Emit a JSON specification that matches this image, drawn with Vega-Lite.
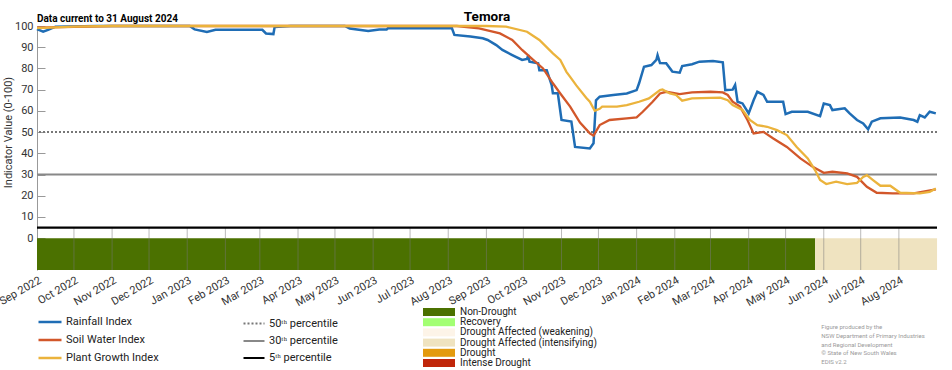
{
  "$schema": "https://vega.github.io/schema/vega-lite/v6.json",
  "width": 900,
  "height": 244,
  "autosize": {"type": "none"},
  "padding": {"left": 37, "top": 26, "right": 15, "bottom": 100},
  "background": "white",
  "title": {"text": "Temora", "fontSize": 13.5, "fontWeight": "bold", "anchor": "middle", "offset": 6, "dy": 16, "frame": "group", "color": "#000"},
  "datasets": {
    "idx": [
      {"series": "Rainfall Index", "date": "2022-09-01", "value": 98.5},
      {"series": "Rainfall Index", "date": "2022-09-06", "value": 97.3},
      {"series": "Rainfall Index", "date": "2022-09-10", "value": 98.2},
      {"series": "Rainfall Index", "date": "2022-09-16", "value": 99.7},
      {"series": "Rainfall Index", "date": "2022-10-20", "value": 100},
      {"series": "Rainfall Index", "date": "2023-01-03", "value": 100},
      {"series": "Rainfall Index", "date": "2023-01-07", "value": 98.4},
      {"series": "Rainfall Index", "date": "2023-01-17", "value": 97.2},
      {"series": "Rainfall Index", "date": "2023-01-24", "value": 98.2},
      {"series": "Rainfall Index", "date": "2023-03-03", "value": 98.2},
      {"series": "Rainfall Index", "date": "2023-03-06", "value": 96.5},
      {"series": "Rainfall Index", "date": "2023-03-12", "value": 96.2},
      {"series": "Rainfall Index", "date": "2023-03-13", "value": 99.5},
      {"series": "Rainfall Index", "date": "2023-03-26", "value": 100},
      {"series": "Rainfall Index", "date": "2023-05-09", "value": 100},
      {"series": "Rainfall Index", "date": "2023-05-13", "value": 98.8},
      {"series": "Rainfall Index", "date": "2023-05-28", "value": 97.6},
      {"series": "Rainfall Index", "date": "2023-06-06", "value": 98.4},
      {"series": "Rainfall Index", "date": "2023-06-12", "value": 98.4},
      {"series": "Rainfall Index", "date": "2023-06-13", "value": 98.9},
      {"series": "Rainfall Index", "date": "2023-08-04", "value": 98.9},
      {"series": "Rainfall Index", "date": "2023-08-06", "value": 95.8},
      {"series": "Rainfall Index", "date": "2023-08-19", "value": 95},
      {"series": "Rainfall Index", "date": "2023-08-29", "value": 94.2},
      {"series": "Rainfall Index", "date": "2023-09-02", "value": 93.4},
      {"series": "Rainfall Index", "date": "2023-09-09", "value": 91},
      {"series": "Rainfall Index", "date": "2023-09-14", "value": 88.7},
      {"series": "Rainfall Index", "date": "2023-09-22", "value": 86.3},
      {"series": "Rainfall Index", "date": "2023-09-30", "value": 84},
      {"series": "Rainfall Index", "date": "2023-10-04", "value": 84.5},
      {"series": "Rainfall Index", "date": "2023-10-05", "value": 86.3},
      {"series": "Rainfall Index", "date": "2023-10-06", "value": 83.2},
      {"series": "Rainfall Index", "date": "2023-10-13", "value": 82.4},
      {"series": "Rainfall Index", "date": "2023-10-14", "value": 79.2},
      {"series": "Rainfall Index", "date": "2023-10-20", "value": 79.2},
      {"series": "Rainfall Index", "date": "2023-10-24", "value": 72.2},
      {"series": "Rainfall Index", "date": "2023-10-25", "value": 68.3},
      {"series": "Rainfall Index", "date": "2023-10-29", "value": 68.3},
      {"series": "Rainfall Index", "date": "2023-11-01", "value": 55.7},
      {"series": "Rainfall Index", "date": "2023-11-09", "value": 55},
      {"series": "Rainfall Index", "date": "2023-11-10", "value": 51},
      {"series": "Rainfall Index", "date": "2023-11-12", "value": 43},
      {"series": "Rainfall Index", "date": "2023-11-24", "value": 42.3},
      {"series": "Rainfall Index", "date": "2023-11-27", "value": 44.7},
      {"series": "Rainfall Index", "date": "2023-11-29", "value": 65},
      {"series": "Rainfall Index", "date": "2023-12-02", "value": 66.7},
      {"series": "Rainfall Index", "date": "2023-12-13", "value": 67.5},
      {"series": "Rainfall Index", "date": "2023-12-24", "value": 68.2},
      {"series": "Rainfall Index", "date": "2024-01-01", "value": 69.8},
      {"series": "Rainfall Index", "date": "2024-01-03", "value": 73},
      {"series": "Rainfall Index", "date": "2024-01-07", "value": 80.8},
      {"series": "Rainfall Index", "date": "2024-01-13", "value": 81.6},
      {"series": "Rainfall Index", "date": "2024-01-17", "value": 84},
      {"series": "Rainfall Index", "date": "2024-01-18", "value": 86.3},
      {"series": "Rainfall Index", "date": "2024-01-20", "value": 82.5},
      {"series": "Rainfall Index", "date": "2024-01-25", "value": 82.4},
      {"series": "Rainfall Index", "date": "2024-01-30", "value": 78.5},
      {"series": "Rainfall Index", "date": "2024-02-05", "value": 78},
      {"series": "Rainfall Index", "date": "2024-02-07", "value": 81.1},
      {"series": "Rainfall Index", "date": "2024-02-15", "value": 82},
      {"series": "Rainfall Index", "date": "2024-02-21", "value": 83.2},
      {"series": "Rainfall Index", "date": "2024-03-03", "value": 83.5},
      {"series": "Rainfall Index", "date": "2024-03-11", "value": 82.9},
      {"series": "Rainfall Index", "date": "2024-03-13", "value": 69.8},
      {"series": "Rainfall Index", "date": "2024-03-19", "value": 70},
      {"series": "Rainfall Index", "date": "2024-03-21", "value": 72.2},
      {"series": "Rainfall Index", "date": "2024-03-23", "value": 64.3},
      {"series": "Rainfall Index", "date": "2024-03-27", "value": 63.5},
      {"series": "Rainfall Index", "date": "2024-04-01", "value": 58.8},
      {"series": "Rainfall Index", "date": "2024-04-05", "value": 65},
      {"series": "Rainfall Index", "date": "2024-04-08", "value": 69},
      {"series": "Rainfall Index", "date": "2024-04-13", "value": 67.5},
      {"series": "Rainfall Index", "date": "2024-04-16", "value": 64.3},
      {"series": "Rainfall Index", "date": "2024-04-29", "value": 64.3},
      {"series": "Rainfall Index", "date": "2024-05-01", "value": 58.5},
      {"series": "Rainfall Index", "date": "2024-05-06", "value": 59.6},
      {"series": "Rainfall Index", "date": "2024-05-19", "value": 59.6},
      {"series": "Rainfall Index", "date": "2024-05-29", "value": 57.5},
      {"series": "Rainfall Index", "date": "2024-06-01", "value": 63.5},
      {"series": "Rainfall Index", "date": "2024-06-06", "value": 62.7},
      {"series": "Rainfall Index", "date": "2024-06-08", "value": 60.4},
      {"series": "Rainfall Index", "date": "2024-06-18", "value": 61.2},
      {"series": "Rainfall Index", "date": "2024-06-22", "value": 58.8},
      {"series": "Rainfall Index", "date": "2024-06-28", "value": 55.7},
      {"series": "Rainfall Index", "date": "2024-07-03", "value": 54.1},
      {"series": "Rainfall Index", "date": "2024-07-07", "value": 51.3},
      {"series": "Rainfall Index", "date": "2024-07-10", "value": 54.9},
      {"series": "Rainfall Index", "date": "2024-07-17", "value": 56.5},
      {"series": "Rainfall Index", "date": "2024-08-02", "value": 56.9},
      {"series": "Rainfall Index", "date": "2024-08-13", "value": 55.7},
      {"series": "Rainfall Index", "date": "2024-08-16", "value": 54.9},
      {"series": "Rainfall Index", "date": "2024-08-18", "value": 58},
      {"series": "Rainfall Index", "date": "2024-08-22", "value": 56.9},
      {"series": "Rainfall Index", "date": "2024-08-26", "value": 59.6},
      {"series": "Rainfall Index", "date": "2024-08-31", "value": 58.8},

      {"series": "Soil Water Index", "date": "2022-09-01", "value": 99.2},
      {"series": "Soil Water Index", "date": "2022-10-01", "value": 99.6},
      {"series": "Soil Water Index", "date": "2022-11-01", "value": 100},
      {"series": "Soil Water Index", "date": "2023-08-08", "value": 100},
      {"series": "Soil Water Index", "date": "2023-08-26", "value": 98.9},
      {"series": "Soil Water Index", "date": "2023-09-12", "value": 96.5},
      {"series": "Soil Water Index", "date": "2023-09-22", "value": 93.4},
      {"series": "Soil Water Index", "date": "2023-09-30", "value": 88.7},
      {"series": "Soil Water Index", "date": "2023-10-09", "value": 84},
      {"series": "Soil Water Index", "date": "2023-10-17", "value": 80},
      {"series": "Soil Water Index", "date": "2023-10-25", "value": 73},
      {"series": "Soil Water Index", "date": "2023-10-31", "value": 68.2},
      {"series": "Soil Water Index", "date": "2023-11-08", "value": 62},
      {"series": "Soil Water Index", "date": "2023-11-16", "value": 54.5},
      {"series": "Soil Water Index", "date": "2023-11-24", "value": 49.4},
      {"series": "Soil Water Index", "date": "2023-11-27", "value": 48.3},
      {"series": "Soil Water Index", "date": "2023-12-02", "value": 53.3},
      {"series": "Soil Water Index", "date": "2023-12-10", "value": 55.7},
      {"series": "Soil Water Index", "date": "2023-12-24", "value": 56.5},
      {"series": "Soil Water Index", "date": "2024-01-01", "value": 56.9},
      {"series": "Soil Water Index", "date": "2024-01-06", "value": 59.6},
      {"series": "Soil Water Index", "date": "2024-01-14", "value": 64.3},
      {"series": "Soil Water Index", "date": "2024-01-20", "value": 68.2},
      {"series": "Soil Water Index", "date": "2024-01-25", "value": 69},
      {"series": "Soil Water Index", "date": "2024-02-05", "value": 67.9},
      {"series": "Soil Water Index", "date": "2024-02-15", "value": 68.7},
      {"series": "Soil Water Index", "date": "2024-03-01", "value": 69},
      {"series": "Soil Water Index", "date": "2024-03-11", "value": 68.7},
      {"series": "Soil Water Index", "date": "2024-03-15", "value": 67.5},
      {"series": "Soil Water Index", "date": "2024-03-19", "value": 64.3},
      {"series": "Soil Water Index", "date": "2024-03-25", "value": 62},
      {"series": "Soil Water Index", "date": "2024-03-31", "value": 55.7},
      {"series": "Soil Water Index", "date": "2024-04-05", "value": 49.4},
      {"series": "Soil Water Index", "date": "2024-04-13", "value": 50.1},
      {"series": "Soil Water Index", "date": "2024-04-21", "value": 47},
      {"series": "Soil Water Index", "date": "2024-05-02", "value": 43},
      {"series": "Soil Water Index", "date": "2024-05-13", "value": 37.6},
      {"series": "Soil Water Index", "date": "2024-05-23", "value": 33.6},
      {"series": "Soil Water Index", "date": "2024-06-01", "value": 30.8},
      {"series": "Soil Water Index", "date": "2024-06-08", "value": 31.3},
      {"series": "Soil Water Index", "date": "2024-06-20", "value": 30.5},
      {"series": "Soil Water Index", "date": "2024-06-28", "value": 28.9},
      {"series": "Soil Water Index", "date": "2024-07-06", "value": 24.2},
      {"series": "Soil Water Index", "date": "2024-07-14", "value": 21.4},
      {"series": "Soil Water Index", "date": "2024-07-27", "value": 21.1},
      {"series": "Soil Water Index", "date": "2024-08-13", "value": 21.1},
      {"series": "Soil Water Index", "date": "2024-08-31", "value": 23},

      {"series": "Plant Growth Index", "date": "2022-09-01", "value": 99},
      {"series": "Plant Growth Index", "date": "2022-10-01", "value": 99.7},
      {"series": "Plant Growth Index", "date": "2022-11-01", "value": 100},
      {"series": "Plant Growth Index", "date": "2023-09-01", "value": 100},
      {"series": "Plant Growth Index", "date": "2023-09-17", "value": 99.7},
      {"series": "Plant Growth Index", "date": "2023-10-04", "value": 97.3},
      {"series": "Plant Growth Index", "date": "2023-10-14", "value": 93.4},
      {"series": "Plant Growth Index", "date": "2023-10-25", "value": 87.1},
      {"series": "Plant Growth Index", "date": "2023-10-31", "value": 84},
      {"series": "Plant Growth Index", "date": "2023-11-05", "value": 78.4},
      {"series": "Plant Growth Index", "date": "2023-11-08", "value": 76},
      {"series": "Plant Growth Index", "date": "2023-11-13", "value": 72},
      {"series": "Plant Growth Index", "date": "2023-11-21", "value": 66.2},
      {"series": "Plant Growth Index", "date": "2023-11-24", "value": 64.3},
      {"series": "Plant Growth Index", "date": "2023-11-28", "value": 60},
      {"series": "Plant Growth Index", "date": "2023-12-02", "value": 61},
      {"series": "Plant Growth Index", "date": "2023-12-04", "value": 62},
      {"series": "Plant Growth Index", "date": "2023-12-16", "value": 62},
      {"series": "Plant Growth Index", "date": "2023-12-24", "value": 62.7},
      {"series": "Plant Growth Index", "date": "2024-01-03", "value": 64.3},
      {"series": "Plant Growth Index", "date": "2024-01-11", "value": 65.9},
      {"series": "Plant Growth Index", "date": "2024-01-20", "value": 69.8},
      {"series": "Plant Growth Index", "date": "2024-01-22", "value": 70.1},
      {"series": "Plant Growth Index", "date": "2024-01-28", "value": 68.2},
      {"series": "Plant Growth Index", "date": "2024-02-02", "value": 67.5},
      {"series": "Plant Growth Index", "date": "2024-02-07", "value": 64.8},
      {"series": "Plant Growth Index", "date": "2024-02-15", "value": 65.9},
      {"series": "Plant Growth Index", "date": "2024-03-09", "value": 66.2},
      {"series": "Plant Growth Index", "date": "2024-03-15", "value": 65},
      {"series": "Plant Growth Index", "date": "2024-03-19", "value": 62.7},
      {"series": "Plant Growth Index", "date": "2024-03-27", "value": 60.4},
      {"series": "Plant Growth Index", "date": "2024-04-02", "value": 55.7},
      {"series": "Plant Growth Index", "date": "2024-04-08", "value": 53.3},
      {"series": "Plant Growth Index", "date": "2024-04-16", "value": 52.5},
      {"series": "Plant Growth Index", "date": "2024-04-24", "value": 50.9},
      {"series": "Plant Growth Index", "date": "2024-05-02", "value": 48.6},
      {"series": "Plant Growth Index", "date": "2024-05-10", "value": 43},
      {"series": "Plant Growth Index", "date": "2024-05-19", "value": 37.6},
      {"series": "Plant Growth Index", "date": "2024-05-25", "value": 32},
      {"series": "Plant Growth Index", "date": "2024-05-29", "value": 27.4},
      {"series": "Plant Growth Index", "date": "2024-06-03", "value": 25.5},
      {"series": "Plant Growth Index", "date": "2024-06-11", "value": 26.6},
      {"series": "Plant Growth Index", "date": "2024-06-20", "value": 25.5},
      {"series": "Plant Growth Index", "date": "2024-06-28", "value": 26.1},
      {"series": "Plant Growth Index", "date": "2024-07-03", "value": 28.9},
      {"series": "Plant Growth Index", "date": "2024-07-06", "value": 29.7},
      {"series": "Plant Growth Index", "date": "2024-07-11", "value": 27.4},
      {"series": "Plant Growth Index", "date": "2024-07-17", "value": 24.7},
      {"series": "Plant Growth Index", "date": "2024-07-25", "value": 24.7},
      {"series": "Plant Growth Index", "date": "2024-08-02", "value": 21.4},
      {"series": "Plant Growth Index", "date": "2024-08-18", "value": 21.1},
      {"series": "Plant Growth Index", "date": "2024-08-26", "value": 21.8},
      {"series": "Plant Growth Index", "date": "2024-08-31", "value": 23.4}
    ]
  },
  "layer": [
    {
      "data": {"values": [
        {"start": "2022-09-01", "end": "2024-05-25", "category": "Non-Drought"},
        {"start": "2024-05-25", "end": "2024-09-01", "category": "Drought Affected (intensifying)"}
      ]},
      "mark": {"type": "rect"},
      "encoding": {
        "x": {"field": "start", "type": "temporal", "title": null,
          "scale": {"domain": [{"year": 2022, "month": 9, "date": 1}, {"year": 2024, "month": 8, "date": 31, "hours": 23}], "nice": false},
          "axis": {"format": "%b %Y", "tickCount": {"interval": "month", "step": 1}, "labelAngle": -30, "labelAlign": "right", "labelBaseline": "top", "labelFontSize": 11, "labelColor": "#333", "labelPadding": 4, "domain": false, "ticks": false, "grid": false, "title": null, "labelOverlap": false, "labelFlush": false}},
        "x2": {"field": "end"},
        "y": {"datum": -15, "type": "quantitative", "scale": {"domain": [-15, 100], "nice": false, "zero": false},
          "axis": {"values": [0, 10, 20, 30, 40, 50, 60, 70, 80, 90, 100], "tickCount": 12, "labelOverlap": false, "labelSeparation": 0, "title": "Indicator Value (0-100)", "titleFontSize": 11, "titleFontWeight": "normal", "titleColor": "#333", "titleX": -29, "titleY": 106, "titleAlign": "center", "titleBaseline": "middle", "titleAngle": -90, "labelFontSize": 11, "labelColor": "#333", "domainColor": "#999", "tickColor": "#999", "tickSize": -8, "labelPadding": 12, "grid": false}},
        "y2": {"datum": 0},
        "fill": {"field": "category", "type": "nominal",
          "scale": {"domain": ["Non-Drought", "Recovery", "Drought Affected (weakening)", "Drought Affected (intensifying)", "Drought", "Intense Drought"],
                    "range": ["#4b7100", "#a3ff73", "#fdf4e8", "#efe3c0", "#e39a0e", "#c0260a"]},
          "legend": {"orient": "none", "legendX": 397, "legendY": 281, "title": null, "symbolType": "M-4,-1H4V1H-4Z", "symbolSize": 64, "symbolStrokeWidth": 0, "labelFontSize": 10, "labelColor": "#222", "rowPadding": 0.2, "labelOffset": 16}}
      }
    },
    {
      "data": {"values": [
        {"month": "2022-10-01"}, {"month": "2022-11-01"}, {"month": "2022-12-01"}, {"month": "2023-01-01"},
        {"month": "2023-02-01"}, {"month": "2023-03-01"}, {"month": "2023-04-01"}, {"month": "2023-05-01"},
        {"month": "2023-06-01"}, {"month": "2023-07-01"}, {"month": "2023-08-01"}, {"month": "2023-09-01"},
        {"month": "2023-10-01"}, {"month": "2023-11-01"}, {"month": "2023-12-01"}, {"month": "2024-01-01"},
        {"month": "2024-02-01"}, {"month": "2024-03-01"}, {"month": "2024-04-01"}, {"month": "2024-05-01"},
        {"month": "2024-06-01"}, {"month": "2024-07-01"}, {"month": "2024-08-01"}
      ]},
      "mark": {"type": "rule", "color": "#777", "strokeWidth": 1, "opacity": 0.5},
      "encoding": {
        "x": {"field": "month", "type": "temporal", "title": null},
        "y": {"datum": -15, "type": "quantitative"},
        "y2": {"datum": 5}
      }
    },
    {
      "data": {"values": [
        {"percentile": "50ᵗʰ percentile", "level": 50},
        {"percentile": "30ᵗʰ percentile", "level": 30},
        {"percentile": "5ᵗʰ percentile", "level": 5}
      ]},
      "mark": {"type": "rule"},
      "encoding": {
        "y": {"field": "level", "type": "quantitative"},
        "stroke": {"field": "percentile", "type": "nominal",
          "scale": {"domain": ["50ᵗʰ percentile", "30ᵗʰ percentile", "5ᵗʰ percentile"], "range": ["#777777", "#888888", "#000000"]},
          "legend": {"orient": "none", "legendX": 205, "legendY": 286, "title": null, "symbolType": "stroke", "symbolSize": 441, "labelFontSize": 11, "labelColor": "#222", "rowPadding": -1, "labelOffset": 3}},
        "strokeDash": {"field": "percentile", "type": "nominal",
          "scale": {"domain": ["50ᵗʰ percentile", "30ᵗʰ percentile", "5ᵗʰ percentile"], "range": [[2, 2], [1, 0], [1, 0]]}},
        "strokeWidth": {"field": "percentile", "type": "ordinal",
          "scale": {"domain": ["50ᵗʰ percentile", "30ᵗʰ percentile", "5ᵗʰ percentile"], "range": [2, 2.2, 3]}}
      }
    },
    {
      "data": {"name": "idx"},
      "transform": [{"filter": "datum.series === 'Rainfall Index'"}],
      "mark": {"type": "line", "strokeWidth": 2.5},
      "encoding": {
        "x": {"field": "date", "type": "temporal", "title": null},
        "y": {"field": "value", "type": "quantitative"},
        "color": {"field": "series", "type": "nominal",
          "scale": {"domain": ["Rainfall Index", "Soil Water Index", "Plant Growth Index"], "range": ["#1f6db5", "#d2572a", "#ebb33c"]},
          "legend": {"orient": "none", "legendX": 0, "legendY": 283, "title": null, "symbolType": "stroke", "symbolSize": 529, "symbolStrokeWidth": 2.5, "labelFontSize": 11, "labelColor": "#222", "rowPadding": -2.5, "labelOffset": 3}}
      }
    },
    {
      "data": {"name": "idx"},
      "transform": [{"filter": "datum.series === 'Soil Water Index'"}],
      "mark": {"type": "line", "strokeWidth": 2.3},
      "encoding": {
        "x": {"field": "date", "type": "temporal", "title": null},
        "y": {"field": "value", "type": "quantitative"},
        "color": {"field": "series", "type": "nominal"}
      }
    },
    {
      "data": {"name": "idx"},
      "transform": [{"filter": "datum.series === 'Plant Growth Index'"}],
      "mark": {"type": "line", "strokeWidth": 2.3},
      "encoding": {
        "x": {"field": "date", "type": "temporal", "title": null},
        "y": {"field": "value", "type": "quantitative"},
        "color": {"field": "series", "type": "nominal"}
      }
    },
    {
      "data": {"values": [{"label": "Data current to 31 August 2024"}]},
      "mark": {"type": "text", "align": "left", "baseline": "alphabetic", "dy": -4.5, "fontSize": 10, "fontWeight": "bold", "color": "#000", "clip": false},
      "encoding": {
        "x": {"datum": {"year": 2022, "month": 9, "date": 1}, "type": "temporal"},
        "y": {"datum": 100, "type": "quantitative"},
        "text": {"field": "label"}
      }
    },
    {
      "data": {"values": [{"note": "footer"}]},
      "mark": {"type": "text", "align": "left", "baseline": "top", "fontSize": 6, "lineHeight": 8.8, "color": "#9a9a9a", "clip": false},
      "encoding": {
        "x": {"datum": {"year": 2024, "month": 5, "date": 30}, "type": "temporal"},
        "y": {"datum": -40.5, "type": "quantitative"},
        "text": {"value": ["Figure produced by the", "NSW Department of Primary Industries", "and Regional Development", "© State of New South Wales", "EDIS v2.2"]}
      }
    }
  ],
  "config": {
    "font": "Roboto",
    "view": {"stroke": null},
    "axisY": {"labelOverlap": false, "labelSeparation": 0}
  }
}
